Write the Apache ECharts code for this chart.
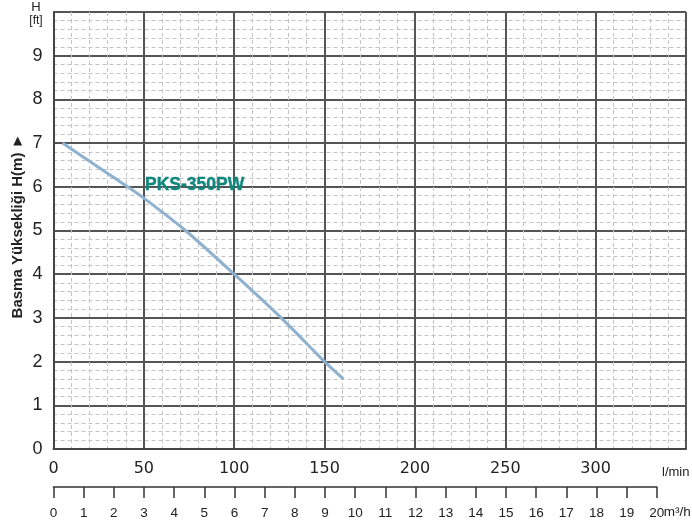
<!DOCTYPE html>
<html>
<head>
<meta charset="utf-8">
<script src="https://cdn.jsdelivr.net/npm/echarts@6/dist/echarts.min.js"></script>
<style>
html,body{margin:0;padding:0;background:#fff;}
#c{width:692px;height:530px;}
</style>
</head>
<body>
<div id="c"></div>
<script>
// Flow (l/min) and head (m) of the PKS-350PW curve
const flowLpm = [5, 41, 50, 73, 100, 126, 150, 160.5];
const headM = [7.0, 6.0, 5.74, 5.0, 4.0, 3.0, 2.0, 1.6];
const seriesName = 'PKS-350PW';
const xTickLabels = ['0', '50', '100', '150', '200', '250', '300'];
const yTickLabels = ['0','1','2','3','4','5','6','7','8','9'];
const m3hTickLabels = ['0','1','2','3','4','5','6','7','8','9','10','11','12','13','14','15','16','17','18','19','20'];

const chart = echarts.init(document.getElementById('c'));
const major = {show: true, lineStyle: {color: '#555', width: 2}};
const minor = {show: true, lineStyle: {color: '#c4c4c4', width: 1, type: [4, 3]}};

const option = {
  backgroundColor: '#fff',
  animation: false,
  grid: [
    {left: 53.5, right: 6, top: 12, bottom: 81},
    {left: 53.5, width: 603.3, top: 486, height: 1}
  ],
  xAxis: [
    {
      gridIndex: 0, type: 'value', min: 0, max: 350, interval: 50,
      axisLine: {show: true, lineStyle: {color: '#444', width: 2}},
      axisTick: {show: false},
      splitLine: major,
      minorTick: {show: false, splitNumber: 5},
      minorSplitLine: minor,
      axisLabel: {
        margin: 12, color: '#222', fontSize: 16, fontFamily: 'DejaVu Sans',
        formatter: v => { const i = xTickLabels.indexOf(String(v)); return i >= 0 ? xTickLabels[i] : ''; }
      }
    },
    {
      gridIndex: 1, type: 'value', min: 0, max: 20, interval: 1,
      axisLine: {show: true, onZero: false, lineStyle: {color: '#333', width: 1.5}},
      axisTick: {show: true, length: 11, lineStyle: {color: '#333', width: 1.5}},
      splitLine: {show: false},
      axisLabel: {
        margin: 19, color: '#222', fontSize: 13.5, fontFamily: 'Liberation Sans',
        formatter: v => m3hTickLabels[v] !== undefined ? m3hTickLabels[v] : ''
      }
    }
  ],
  yAxis: [
    {
      gridIndex: 0, type: 'value', min: 0, max: 10, interval: 1,
      axisLine: {show: true, lineStyle: {color: '#444', width: 2}},
      axisTick: {show: false},
      splitLine: major,
      minorTick: {show: false, splitNumber: 5},
      minorSplitLine: minor,
      axisLabel: {
        margin: 11, color: '#222', fontSize: 18, fontFamily: 'Liberation Sans',
        padding: [5, 0, 0, 0],
        formatter: v => yTickLabels[v] !== undefined ? yTickLabels[v] : ''
      }
    },
    {gridIndex: 1, type: 'value', show: false, min: 0, max: 1}
  ],
  series: [
    {
      name: seriesName, type: 'line', xAxisIndex: 0, yAxisIndex: 0,
      data: flowLpm.map((x, i) => [x, headM[i]]),
      smooth: 0.25, showSymbol: false, symbol: 'none',
      lineStyle: {color: '#8fb1d0', width: 3}
    }
  ]
};
chart.setOption(option);

const lab = chart.convertToPixel({gridIndex: 0}, [50.5, 6.03]);
const m20 = chart.convertToPixel({xAxisIndex: 1, yAxisIndex: 1}, [20, 0]);
chart.setOption({
  graphic: [
    {type: 'text', left: lab[0], top: lab[1] - 10,
      style: {text: seriesName, fill: '#10877d', stroke: '#10877d', lineWidth: 0.4, font: 'bold 17.5px "Liberation Sans"'}},
    {type: 'text', x: 36, y: 7, style: {text: 'H', fill: '#222', font: '13px "Liberation Sans"', align: 'center', verticalAlign: 'middle'}},
    {type: 'text', x: 36, y: 21, style: {text: '[ft]', fill: '#222', font: '12px "Liberation Sans"', align: 'center', verticalAlign: 'middle'}},
    {type: 'text', x: 18, y: 226, rotation: Math.PI / 2,
      style: {text: 'Basma Yüksekliği H(m) ►', fill: '#222', font: 'bold 15px "Liberation Sans"', align: 'center', verticalAlign: 'middle'}},
    {type: 'text', x: 662, y: 472, style: {text: 'l/min', fill: '#222', font: '13px "Liberation Sans"', verticalAlign: 'middle'}},
    {type: 'text', x: m20[0] + 7, y: 512, style: {text: 'm³/h', fill: '#222', font: '13.5px "Liberation Sans"', verticalAlign: 'middle'}}
  ]
});
</script>
</body>
</html>
